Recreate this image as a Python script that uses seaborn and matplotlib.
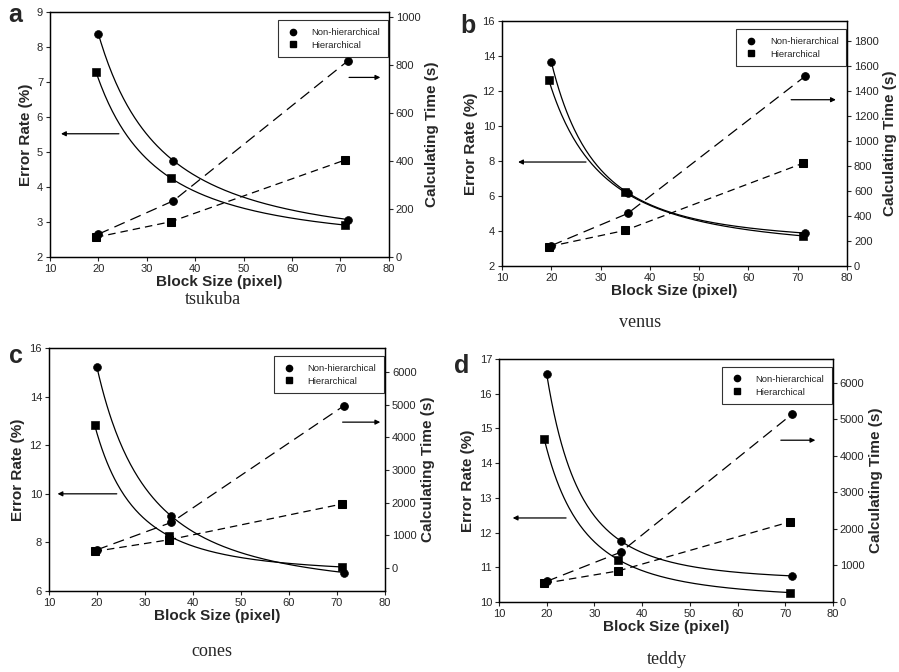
import numpy as np
import pandas as pd
import matplotlib
matplotlib.use("Agg")
import matplotlib.pyplot as plt
from matplotlib.lines import Line2D
import seaborn as sns

# block sizes (circles sit slightly right of squares in the scan)
x_non = [20, 35.5, 71.5]
x_hier = [19.5, 35, 71]

# error rate (%) per dataset
err_non_tsukuba = [8.37, 4.75, 3.07]
err_hier_tsukuba = [7.29, 4.25, 2.91]
err_non_venus = [13.66, 6.19, 3.88]
err_hier_venus = [12.62, 6.2, 3.72]
err_non_cones = [15.2, 9.08, 6.76]
err_hier_cones = [12.84, 8.27, 6.99]
err_non_teddy = [16.57, 11.76, 10.75]
err_hier_teddy = [14.69, 11.22, 10.27]

# calculating time (s) per dataset
time_non_tsukuba = [95, 234, 816]
time_hier_tsukuba = [82, 147, 404]
time_non_venus = [163, 420, 1518]
time_hier_venus = [155, 285, 821]
time_non_cones = [561, 1398, 4969]
time_hier_cones = [510, 867, 1959]
time_non_teddy = [564, 1361, 5148]
time_hier_teddy = [510, 850, 2193]

names = ["tsukuba", "venus", "cones", "teddy"]
letters = ["a", "b", "c", "d"]


def power_trend(xs, ys, n=200):
    # y = c + a * x**b through the three points (b found by bisection)
    x1, x2, x3 = xs
    y1, y2, y3 = ys
    r = (y1 - y2) / (y2 - y3)

    def f(b):
        return (x1**b - x2**b) / (x2**b - x3**b) - r

    lo, hi = -12.0, -1e-3
    for _ in range(80):
        mid = 0.5 * (lo + hi)
        if f(lo) * f(mid) <= 0:
            hi = mid
        else:
            lo = mid
    b = 0.5 * (lo + hi)
    a = (y1 - y2) / (x1**b - x2**b)
    c = y1 - a * x1**b
    xx = np.linspace(x1, x3, n)
    return xx, c + a * xx**b


sns.set_theme(style="ticks")
plt.rcParams['font.family'] = ['Liberation Sans', 'DejaVu Sans']

panels = {
    "tsukuba": dict(err=(err_non_tsukuba, err_hier_tsukuba), tm=(time_non_tsukuba, time_hier_tsukuba),
                    pos=[0.0556, 0.6176, 0.377, 0.3646], ylim=(2, 9), yticks=np.arange(2, 10, 1),
                    y2lim=(0, 1020), y2ticks=np.arange(0, 1001, 200),
                    larrow=(24.8, 11.7, 5.52), rarrow=(71.2, 78.8, 7.13),
                    cap=(0.237, 0.554), let=(0.017, 0.978)),
    "venus": dict(err=(err_non_venus, err_hier_venus), tm=(time_non_venus, time_hier_venus),
                  pos=[0.5584, 0.6042, 0.3838, 0.3646], ylim=(2, 16), yticks=np.arange(2, 17, 2),
                  y2lim=(0, 1960), y2ticks=np.arange(0, 1801, 200),
                  larrow=(27.6, 12.7, 7.94), rarrow=(68.1, 78.3, 11.5),
                  cap=(0.712, 0.52), let=(0.521, 0.962)),
    "cones": dict(err=(err_non_cones, err_hier_cones), tm=(time_non_cones, time_hier_cones),
                  pos=[0.0545, 0.1205, 0.3737, 0.3616], ylim=(6, 16), yticks=np.arange(6, 17, 2),
                  y2lim=(-700, 6730), y2ticks=np.arange(0, 6001, 1000),
                  larrow=(24.7, 11.2, 10.0), rarrow=(70.6, 79.6, 12.95),
                  cap=(0.236, 0.031), let=(0.018, 0.47)),
    "teddy": dict(err=(err_non_teddy, err_hier_teddy), tm=(time_non_teddy, time_hier_teddy),
                  pos=[0.555, 0.1042, 0.3715, 0.3616], ylim=(10, 17), yticks=np.arange(10, 18, 1),
                  y2lim=(0, 6650), y2ticks=np.arange(0, 6001, 1000),
                  larrow=(24.65, 12.3, 12.42), rarrow=(68.5, 76.9, 14.66),
                  cap=(0.742, 0.018), let=(0.514, 0.455)),
}

fig = plt.figure(figsize=(8.99, 6.72), dpi=100)
tick_fs = 8
lab_fs = 11

for name, letter in zip(names, letters):
    p = panels[name]
    ax = fig.add_axes(p["pos"])
    ax2 = ax.twinx()

    # error-rate curves: smooth power trend through the points
    for xs, ys, mk in [(x_non, p["err"][0], "o"), (x_hier, p["err"][1], "s")]:
        xx, yy = power_trend(xs, ys)
        sns.lineplot(x=xx, y=yy, ax=ax, color="black", lw=0.9, estimator=None)
        sns.scatterplot(x=xs, y=ys, ax=ax, marker=mk, color="black", s=32, edgecolor="black", zorder=5)

    # calculating-time lines (dashed)
    for xs, ys, mk, dash in [(x_non, p["tm"][0], "o", (9, 5)), (x_hier, p["tm"][1], "s", (6, 4))]:
        df = pd.DataFrame({"x": xs, "y": ys})
        sns.lineplot(data=df, x="x", y="y", ax=ax2, color="black", lw=0.9, marker=mk,
                     markersize=5.5, markeredgecolor="black", dashes=False, estimator=None)
        ax2.lines[-1].set_dashes(dash)

    ax.set_xlim(10, 80)
    ax.set_xticks(np.arange(10, 81, 10))
    ax.set_ylim(*p["ylim"])
    ax.set_yticks(p["yticks"])
    ax2.set_ylim(*p["y2lim"])
    ax2.set_yticks(p["y2ticks"])

    ax.set_xlabel("Block Size (pixel)", fontsize=lab_fs, fontweight="bold", labelpad=1)
    ax.set_ylabel("Error Rate (%)", fontsize=lab_fs, fontweight="bold", labelpad=3)
    ax2.set_ylabel("Calculating Time (s)", fontsize=lab_fs, fontweight="bold", labelpad=3)

    for a in (ax, ax2):
        a.tick_params(labelsize=tick_fs, length=3, width=0.8, pad=2, direction="out")
        for s in a.spines.values():
            s.set_visible(True)
            s.set_linewidth(0.9)
            s.set_color("black")

    la = p["larrow"]
    ax.annotate("", xy=(la[1], la[2]), xytext=(la[0], la[2]),
                arrowprops=dict(arrowstyle="-|>", color="black", lw=0.9, mutation_scale=7))
    ra = p["rarrow"]
    ax.annotate("", xy=(ra[1], ra[2]), xytext=(ra[0], ra[2]),
                arrowprops=dict(arrowstyle="-|>", color="black", lw=0.9, mutation_scale=7))

    handles = [Line2D([], [], marker="o", color="black", ls="none", markersize=4.5),
               Line2D([], [], marker="s", color="black", ls="none", markersize=4.5)]
    leg = ax2.legend(handles, ["Non-hierarchical", "Hierarchical"], loc="upper right",
                     bbox_to_anchor=(1.0, 0.97), fontsize=6.8, frameon=True, fancybox=False,
                     borderpad=0.8, labelspacing=0.4, handletextpad=1.2, borderaxespad=0.1,
                     handlelength=1.6)
    leg.get_frame().set_edgecolor("black")
    leg.get_frame().set_linewidth(0.8)

    fig.text(p["cap"][0], p["cap"][1], name, ha="center", va="center", fontsize=13,
             family=["Liberation Serif", "DejaVu Serif"])
    fig.text(p["let"][0], p["let"][1], letter, ha="center", va="center", fontsize=18,
             fontweight="bold")

fig.savefig("out.png", dpi=100)
